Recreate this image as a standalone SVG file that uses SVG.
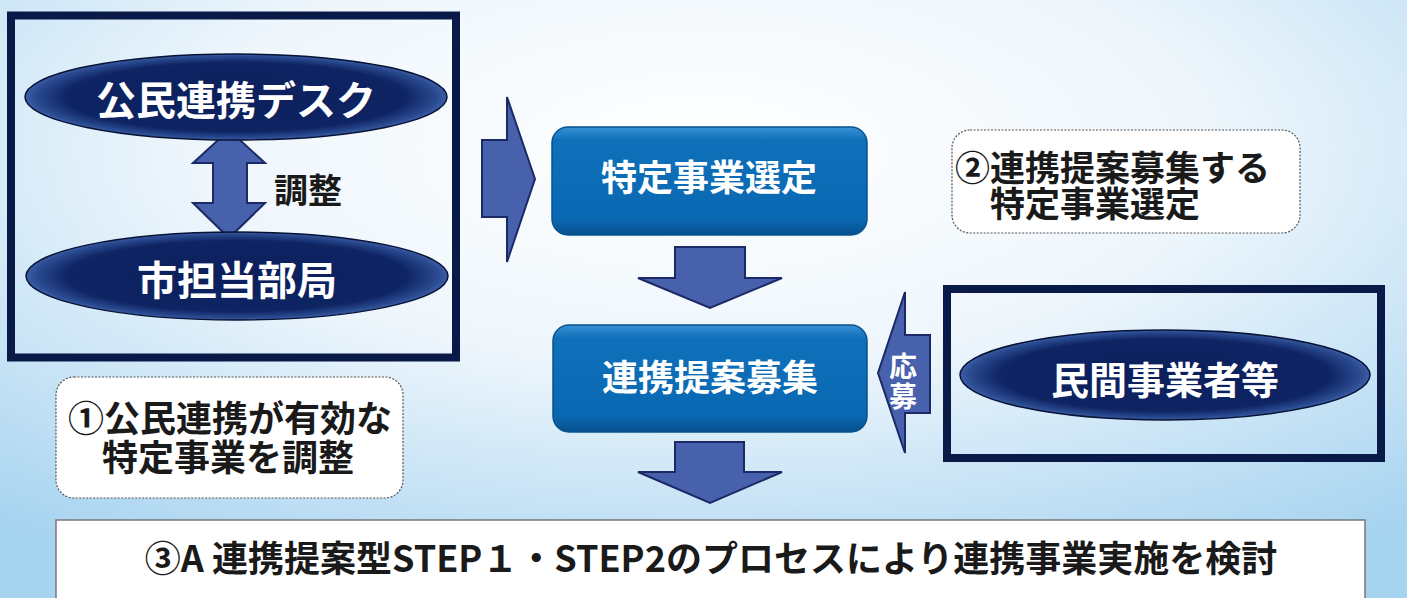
<svg xmlns="http://www.w3.org/2000/svg" width="1407" height="598" viewBox="0 0 1407 598">
<defs>
<radialGradient id="bg" cx="50%" cy="25%" r="80%">
<stop offset="0" stop-color="#ffffff"/>
<stop offset="0.45" stop-color="#eef6fc"/>
<stop offset="1" stop-color="#a6d3f0"/>
</radialGradient>
<linearGradient id="boxg" x1="0" y1="0" x2="0" y2="1">
<stop offset="0" stop-color="#3a92d4"/>
<stop offset="0.12" stop-color="#0f70ba"/>
<stop offset="0.85" stop-color="#0a68b2"/>
<stop offset="1" stop-color="#06508e"/>
</linearGradient>
<radialGradient id="ellg" cx="50%" cy="50%" r="50%">
<stop offset="0" stop-color="#0c1f5c"/>
<stop offset="0.8" stop-color="#0e2463"/>
<stop offset="0.95" stop-color="#2a4a90"/>
<stop offset="1" stop-color="#3c5ea6"/>
</radialGradient>
<style>
.frame{fill:none;stroke:#0a1a48;stroke-width:8}
.ell{fill:url(#ellg);stroke:#061236;stroke-width:1.5}
.box{fill:url(#boxg);stroke:#07528f;stroke-width:1.5}
.arrow{fill:#4861ac;stroke:#1b2a66;stroke-width:2;stroke-linejoin:miter}
.note{fill:#ffffff;stroke:#555;stroke-width:1.2;stroke-dasharray:2 1.5}
.wt{fill:#ffffff;font-family:"Noto Sans CJK JP","Noto Sans",sans-serif;font-weight:bold;text-anchor:middle;dominant-baseline:central}
.bt{fill:#1a1a1a;font-family:"Noto Sans CJK JP","Noto Sans",sans-serif;font-weight:bold;dominant-baseline:central}
</style>
</defs>
<rect x="0" y="0" width="1407" height="598" fill="url(#bg)"/>

<g id="connectors">
<polygon class="arrow" points="229,130 265,163 247,163 247,203 265,203 229,238 193,203 213,203 213,163 193,163"/>
<polygon class="arrow" points="482,140 507,140 507,97 535,179 507,262 507,217 482,217"/>
<polygon class="arrow" points="675,247 745,247 745,278 782,278 710,308 638,278 675,278"/>
<polygon class="arrow" points="675,442 744,442 744,472 782,472 710,503 638,472 675,472"/>
<polygon class="arrow" points="930,335 905,335 905,292 878,373 905,453 905,413 930,413"/>
<text class="bt" x="308" y="188" font-size="34" text-anchor="middle" fill="#333">調整</text>
<text class="wt" x="903" y="365" font-size="28">応</text>
<text class="wt" x="903" y="395" font-size="28">募</text>
</g>

<g id="left-group">
<rect class="frame" x="11" y="15.5" width="445" height="342"/>
</g>
<g id="desk">
<ellipse class="ell" cx="236" cy="97" rx="211" ry="43"/>
<text class="wt" x="236" y="98" font-size="40">公民連携デスク</text>
</g>
<g id="dept">
<ellipse class="ell" cx="237" cy="276" rx="211" ry="44"/>
<text class="wt" x="237" y="278" font-size="40">市担当部局</text>
</g>

<g id="select">
<rect class="box" x="552" y="127" width="315" height="108" rx="16"/>
<text class="wt" x="709" y="175" font-size="36">特定事業選定</text>
</g>
<g id="recruit">
<rect class="box" x="553" y="325" width="314" height="107" rx="16"/>
<text class="wt" x="710" y="375" font-size="36">連携提案募集</text>
</g>

<g id="private">
<rect class="frame" x="947" y="289" width="434" height="169"/>
<ellipse class="ell" cx="1165" cy="375" rx="205" ry="45"/>
<text class="wt" x="1165" y="377" font-size="38">民間事業者等</text>
</g>

<g id="note1">
<rect class="note" x="56" y="377" width="347" height="121" rx="18"/>
<text class="bt" x="230" y="416" font-size="36" text-anchor="middle">①公民連携が有効な</text>
<text class="bt" x="228" y="455" font-size="36" text-anchor="middle">特定事業を調整</text>
</g>

<g id="note2">
<rect class="note" x="952" y="130" width="348" height="103" rx="18"/>
<text class="bt" x="955" y="165" font-size="35">②連携提案募集する</text>
<text class="bt" x="990" y="201" font-size="35">特定事業選定</text>
</g>

<g id="result">
<rect x="56" y="520" width="1309" height="90" fill="#ffffff" stroke="#777" stroke-width="1.5"/>
<text class="bt" x="711" y="556" font-size="36" text-anchor="middle">③A 連携提案型STEP１・STEP2のプロセスにより連携事業実施を検討</text>
</g>
</svg>
